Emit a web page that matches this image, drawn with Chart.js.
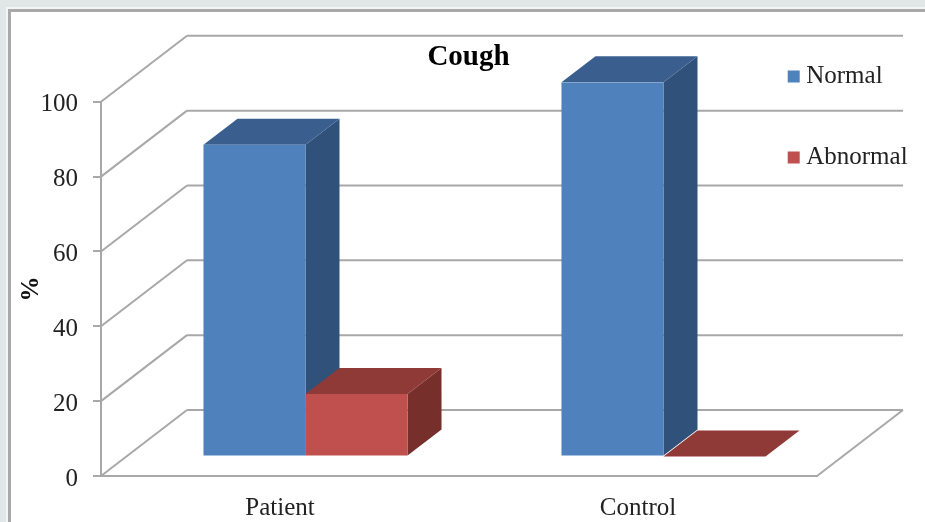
<!DOCTYPE html>
<html>
<head>
<meta charset="utf-8">
<title>Cough</title>
<script src="https://cdn.jsdelivr.net/npm/chart.js@4"></script>
<style>
  html, body { margin: 0; padding: 0; background: #e1e6e6; overflow: hidden; }
  #frame { position: absolute; left: 8px; top: 9px; width: 930px; height: 530px; background: #fff; border: 3px solid #a9a9a9; outline: 2px solid #f3f5f5; }
  #wrap { position: absolute; left: 0; top: 0; width: 925px; height: 522px; filter: blur(0.5px); }
</style>
</head>
<body>
<div id="frame"></div>
<div id="wrap"><canvas id="chart" width="925" height="522"></canvas></div>
<script>
  const categories = ['Patient', 'Control'];
  const normalValues = [83.3, 100];
  const abnormalValues = [16.7, 0];

  const GRID_COLOR = '#a8a8a8';
  const TEXT_FONT = { family: '"Liberation Serif"', size: 25 };
  const WALL_DX = 86;   // how far the back wall sits from the front plane
  const WALL_DY = -66;
  const BAR_DX = 25.5;  // front of the bars, measured from the front plane
  const BAR_DY = -19.5;
  const DEPTH_DX = 34;  // depth of one bar
  const DEPTH_DY = -26;
  const SHADES = [
    { top: '#3a5f8f', side: '#30527a' },
    { top: '#8f3a36', side: '#772f2c' }
  ];

  function line(ctx, x1, y1, x2, y2) {
    ctx.beginPath();
    ctx.moveTo(x1, y1);
    ctx.lineTo(x2, y2);
    ctx.stroke();
  }

  function face(ctx, color, pts) {
    ctx.fillStyle = color;
    ctx.beginPath();
    pts.forEach((p, i) => i ? ctx.lineTo(p[0], p[1]) : ctx.moveTo(p[0], p[1]));
    ctx.closePath();
    ctx.fill();
  }

  const walls3d = {
    id: 'walls3d',
    afterLayout(chart) {
      // legend sits over the plot corner, not beside it
      const legend = chart.legend;
      const pad = legend.options.labels.padding;
      legend.left = 793.7 - pad;
      legend.top = 64 - pad;
      legend.bottom = 522;
    },
    beforeDatasetsDraw(chart) {
      const { ctx, chartArea: a, scales } = chart;
      ctx.save();
      ctx.strokeStyle = GRID_COLOR;
      ctx.lineWidth = 2;
      scales.y.ticks.forEach(t => {
        const y = scales.y.getPixelForValue(t.value);
        line(ctx, a.left, y, a.left + WALL_DX, y + WALL_DY);
        line(ctx, a.left + WALL_DX, y + WALL_DY, a.right + WALL_DX, y + WALL_DY);
      });
      line(ctx, a.right, a.bottom, a.right + WALL_DX, a.bottom + WALL_DY);

      // bars stand part way back on the floor
      ctx.translate(BAR_DX, BAR_DY);
      chart.data.datasets.forEach((ds, d) => {
        chart.getDatasetMeta(d).data.forEach(bar => {
          const x1 = bar.x - bar.width / 2;
          const x2 = bar.x + bar.width / 2;
          face(ctx, SHADES[d].side, [[x2, bar.y], [x2 + DEPTH_DX, bar.y + DEPTH_DY], [x2 + DEPTH_DX, bar.base + DEPTH_DY], [x2, bar.base]]);
          face(ctx, SHADES[d].top, [[x1, bar.y], [x1 + DEPTH_DX, bar.y + DEPTH_DY], [x2 + DEPTH_DX, bar.y + DEPTH_DY], [x2, bar.y]]);
        });
      });
    },
    afterDatasetsDraw(chart) {
      chart.ctx.restore();
    }
  };

  new Chart(document.getElementById('chart'), {
    type: 'bar',
    data: {
      labels: categories,
      datasets: [
        { label: 'Normal', data: normalValues, backgroundColor: '#4f81bd', borderWidth: 0 },
        { label: 'Abnormal', data: abnormalValues, backgroundColor: '#c0504d', borderWidth: 0 }
      ]
    },
    options: {
      responsive: false,
      animation: false,
      layout: { padding: { left: 12, right: 0, top: 0, bottom: 0 } },
      datasets: { bar: { categoryPercentage: 0.57, barPercentage: 1 } },
      plugins: {
        title: {
          display: true,
          text: 'Cough',
          color: '#000',
          font: { family: '"Liberation Serif"', size: 29, weight: 'bold' },
          padding: { top: 40, bottom: 27 }
        },
        legend: {
          position: 'right',
          align: 'start',
          maxWidth: 108,
          labels: {
            color: '#222',
            font: TEXT_FONT,
            usePointStyle: true,
            pointStyle: 'rect',
            boxWidth: 0.01,    // keeps the text close to the swatch
            boxHeight: 12,
            padding: 56
          }
        },
        tooltip: { enabled: false }
      },
      scales: {
        x: {
          grid: { display: false },
          border: { display: true, color: GRID_COLOR, width: 2 },
          ticks: { color: '#222', font: TEXT_FONT, padding: 9, maxRotation: 0 },
          afterFit(scale) { scale.height = 46; }
        },
        y: {
          min: 0,
          max: 100,
          grid: { drawOnChartArea: false, drawTicks: true, tickLength: 8, color: GRID_COLOR, lineWidth: 2 },
          border: { display: true, color: GRID_COLOR, width: 2 },
          ticks: { stepSize: 20, color: '#222', font: TEXT_FONT, padding: 15, labelOffset: 3 },
          title: { display: true, text: '%', color: '#111', font: { family: '"Liberation Serif"', size: 25, weight: 'bold' }, padding: { top: 5, bottom: 0 } },
          afterFit(scale) { scale.width = 89; }
        }
      }
    },
    plugins: [walls3d]
  });
</script>
</body>
</html>
